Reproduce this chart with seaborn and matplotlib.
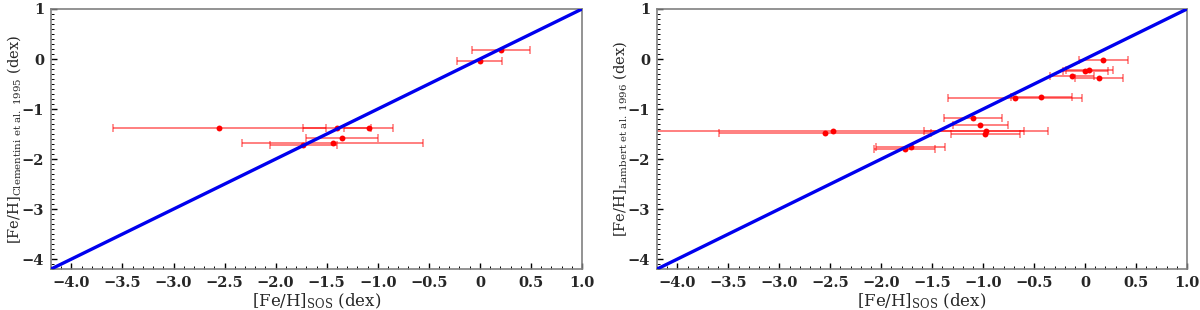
import matplotlib
matplotlib.use("Agg")
import matplotlib.pyplot as plt
import seaborn as sns
import numpy as np
from matplotlib.ticker import MultipleLocator, FixedLocator, FixedFormatter

# ---------------- data ----------------
# Left panel: SOS vs Clementini et al. 1995
clem_x = [-2.55, -1.40, -1.09, -1.35, -1.44, -1.73, 0.21, 0.00]
clem_y = [-1.38, -1.37, -1.37, -1.57, -1.67, -1.71, 0.19, -0.035]
clem_xerr = [1.04, 0.335, 0.24, 0.35, 0.885, 0.33, 0.285, 0.22]

# Right panel: SOS vs Lambert et al. 1996
lamb_x = [0.18, 0.00, 0.04, -0.13, 0.14, -0.69, -0.43, -1.10, -1.03,
          -0.975, -0.98, -2.55, -2.47, -1.77, -1.71]
lamb_y = [-0.02, -0.23, -0.21, -0.33, -0.38, -0.78, -0.75, -1.17, -1.32,
          -1.43, -1.49, -1.47, -1.44, -1.79, -1.75]
lamb_xerr = [0.24, 0.22, 0.23, 0.215, 0.235, 0.66, 0.30, 0.28, 0.27,
             0.61, 0.34, 1.04, 1.87, 0.30, 0.34]

identity = [-4.2, 1.0]          # one-to-one line
axis_range = [-4.2, 1.0]

x_ticks = [-4.0, -3.5, -3.0, -2.5, -2.0, -1.5, -1.0, -0.5, 0.0, 0.5, 1.0]
x_ticklabels = ["\u22124.0", "\u22123.5", "\u22123.0", "\u22122.5", "\u22122.0",
                "\u22121.5", "\u22121.0", "\u22120.5", "0", "0.5", "1.0"]
y_ticks = [-4, -3, -2, -1, 0, 1]
y_ticklabels = ["\u22124", "\u22123", "\u22122", "\u22121", "0", "1"]

x_label = r"[Fe/H]$_{\mathrm{SOS}}$ (dex)"
y_labels = [r"[Fe/H]$_{\mathrm{Clementini\ et\ al.\ 1995}}$ (dex)",
            r"[Fe/H]$_{\mathrm{Lambert\ et\ al.\ 1996}}$ (dex)"]

# ---------------- style ----------------
sns.set_theme(style="white")
plt.rcParams["font.family"] = ["DejaVu Serif"]
plt.rcParams["mathtext.fontset"] = "dejavuserif"
plt.rcParams["axes.unicode_minus"] = True

fig = plt.figure(figsize=(12, 3.1), dpi=100)
ax1 = fig.add_axes([0.0425, 0.132, 0.4425, 0.839])
ax2 = fig.add_axes([0.5475, 0.132, 0.4417, 0.839])

panels = [(ax1, clem_x, clem_y, clem_xerr, y_labels[0]),
          (ax2, lamb_x, lamb_y, lamb_xerr, y_labels[1])]

for ax, xs, ys, xe, ylab in panels:
    ax.errorbar(xs, ys, xerr=xe, fmt="none", ecolor="red", alpha=0.5,
                elinewidth=1.4, capsize=3, capthick=1.2, zorder=2)
    sns.scatterplot(x=xs, y=ys, ax=ax, color="red", s=18, linewidth=0,
                    zorder=3)
    sns.lineplot(x=identity, y=identity, ax=ax, color="#0000ee",
                 linewidth=2.4, zorder=4)
    ax.set_xlim(axis_range)
    ax.set_ylim(axis_range)
    ax.xaxis.set_major_locator(FixedLocator(x_ticks))
    ax.xaxis.set_major_formatter(FixedFormatter(x_ticklabels))
    ax.yaxis.set_major_locator(FixedLocator(y_ticks))
    ax.yaxis.set_major_formatter(FixedFormatter(y_ticklabels))
    ax.xaxis.set_minor_locator(MultipleLocator(0.1))
    ax.yaxis.set_minor_locator(MultipleLocator(0.1))
    ax.tick_params(which="both", direction="in", bottom=True, left=True,
                   top=False, right=False, color="black")
    ax.tick_params(which="major", length=4, width=1.0, labelsize=10.5, pad=5)
    ax.tick_params(which="minor", length=2, width=0.7)
    for lab in ax.get_xticklabels() + ax.get_yticklabels():
        lab.set_fontweight("bold")
    for sp in ax.spines.values():
        sp.set_color("#808080")
        sp.set_linewidth(1.2)
    ax.set_xlabel(x_label, fontsize=12, labelpad=1)
    ax.set_ylabel(ylab, fontsize=10.5)
    ax.yaxis.set_label_coords(-0.052, 0.5)

fig.savefig("out.png", dpi=100)
